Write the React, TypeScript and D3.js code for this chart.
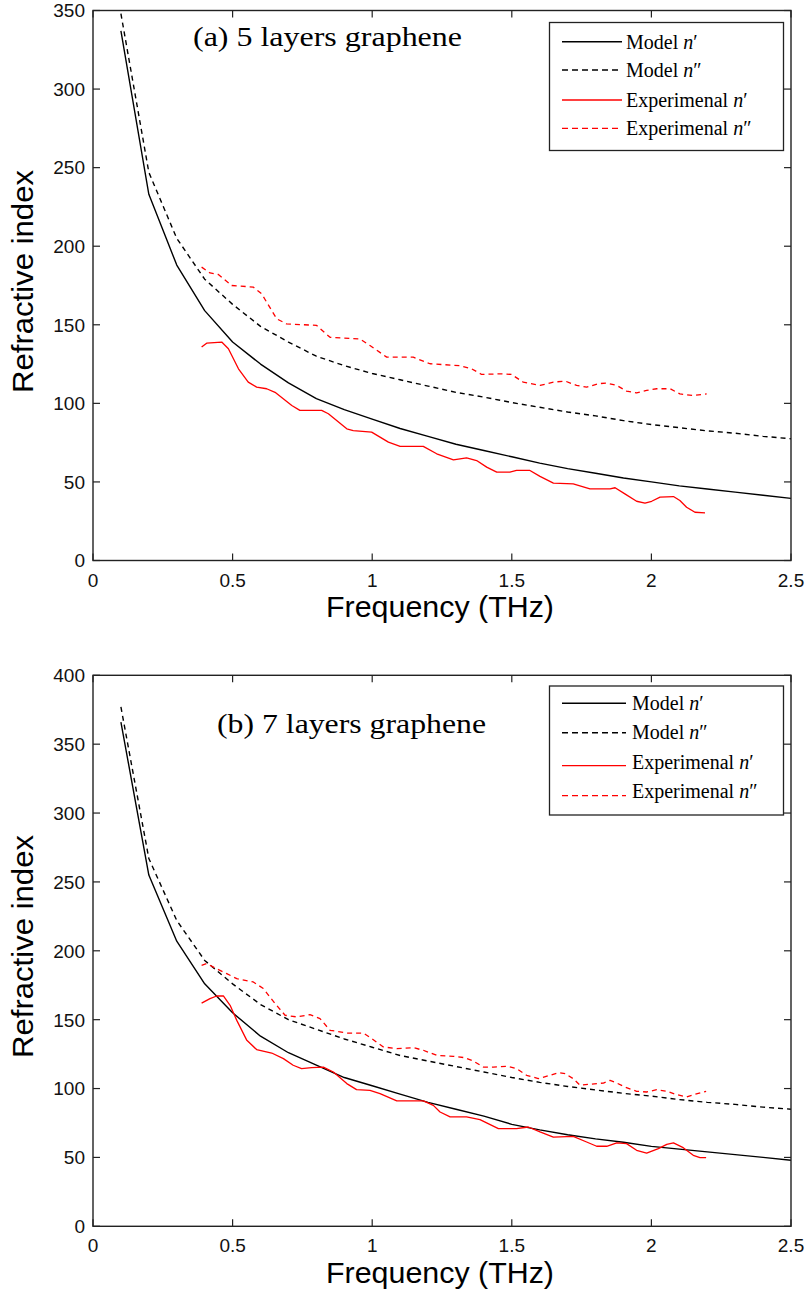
import React from "react";
import * as d3 from "d3";

// ---------- data ----------
const modelFreq = [0.1, 0.2, 0.3, 0.4, 0.5, 0.6, 0.7, 0.8, 0.9, 1.0, 1.1, 1.2, 1.3, 1.4, 1.5, 1.6, 1.7, 1.8, 1.9, 2.0, 2.1, 2.2, 2.3, 2.4, 2.5];

// Panel (a): 5 layers
const aModelReal = [337, 233, 188, 159, 139, 125, 113, 103, 96, 90, 84, 79, 74, 70, 66, 62, 58.5, 55.5, 52.5, 50, 47.5, 45.5, 43.5, 41.5, 39.5];
const aModelImag = [348, 247, 205, 179, 163, 149, 139, 130, 124, 119, 115, 111, 107, 104, 100.5, 97.5, 94.5, 92, 89, 86.5, 84.5, 82.5, 81, 79, 77.5];

const aExpRealFreq = [0.389, 0.407, 0.461, 0.485, 0.521, 0.556, 0.586, 0.622, 0.652, 0.712, 0.741, 0.819, 0.843, 0.909, 0.932, 0.998, 1.058, 1.1, 1.183, 1.231, 1.291, 1.338, 1.374, 1.41, 1.446, 1.493, 1.517, 1.565, 1.601, 1.649, 1.72, 1.78, 1.852, 1.87, 1.905, 1.947, 1.977, 2.001, 2.031, 2.079, 2.102, 2.126, 2.156, 2.192];
const aExpReal = [135.8, 138.3, 139, 134.7, 122, 113.5, 110.3, 109.3, 107, 98.6, 95.5, 95.5, 93.4, 83.8, 82.7, 81.7, 75.3, 72.6, 72.6, 67.9, 64, 65.3, 63.6, 59.4, 56.2, 56.2, 57.3, 57.3, 53.5, 49.2, 48.8, 45.6, 45.6, 46.3, 42.4, 37.7, 36.5, 37.7, 40.3, 40.7, 38.2, 33.9, 30.7, 30.3];

const aExpImagFreq = [0.389, 0.419, 0.449, 0.497, 0.574, 0.604, 0.658, 0.693, 0.801, 0.849, 0.956, 0.992, 1.052, 1.147, 1.207, 1.314, 1.356, 1.392, 1.458, 1.499, 1.541, 1.601, 1.649, 1.691, 1.732, 1.768, 1.81, 1.84, 1.876, 1.911, 1.947, 1.983, 2.019, 2.067, 2.102, 2.15, 2.198];
const aExpImag = [186.7, 183, 182, 175, 174, 169.7, 153.8, 150.6, 149.6, 142, 141, 136.8, 129.4, 129.4, 125.2, 124, 122, 118.4, 118.8, 118.4, 113.5, 111.4, 113.5, 114.2, 111.4, 110.3, 112.5, 112.9, 111.4, 107.8, 106.6, 108.2, 109.3, 109.3, 106, 105, 106];

// Panel (b): 7 layers
const bModelReal = [366, 255, 207, 176, 155, 138, 126, 117, 108, 102, 96, 90, 85, 80, 74, 70, 66.5, 63.5, 61, 58, 56, 54, 52, 50, 48];
const bModelImag = [377, 267, 222, 193, 176, 161, 150, 143, 136, 130, 124, 120, 116, 112, 108, 104.5, 101.5, 99, 96.5, 94.5, 92, 90, 88.5, 86.5, 85];

const bExpRealFreq = [0.389, 0.419, 0.443, 0.467, 0.491, 0.515, 0.551, 0.586, 0.64, 0.682, 0.717, 0.747, 0.783, 0.825, 0.861, 0.909, 0.944, 0.992, 1.028, 1.088, 1.183, 1.219, 1.243, 1.279, 1.338, 1.386, 1.452, 1.517, 1.559, 1.601, 1.649, 1.72, 1.768, 1.804, 1.84, 1.876, 1.911, 1.947, 1.983, 2.025, 2.055, 2.079, 2.114, 2.15, 2.174, 2.196];
const bExpReal = [162, 165.3, 167.2, 167.2, 160.4, 149.5, 135, 128.3, 125.8, 121.7, 116.9, 114.5, 115.2, 115.6, 112, 103.6, 99.2, 98.7, 96.3, 91, 91, 87.8, 83, 79.4, 79.4, 77.5, 70.9, 70.9, 72.1, 68.5, 64.8, 65.3, 61.2, 58.1, 58.1, 60.5, 60, 55.2, 53.2, 56.4, 59.5, 60.5, 57.1, 51.5, 49.9, 49.9];

const bExpImagFreq = [0.389, 0.407, 0.443, 0.479, 0.515, 0.574, 0.61, 0.652, 0.688, 0.73, 0.777, 0.813, 0.849, 0.909, 0.968, 0.998, 1.04, 1.088, 1.147, 1.183, 1.231, 1.291, 1.332, 1.362, 1.398, 1.434, 1.482, 1.517, 1.553, 1.595, 1.637, 1.667, 1.691, 1.72, 1.744, 1.78, 1.828, 1.852, 1.876, 1.905, 1.947, 1.983, 2.019, 2.055, 2.09, 2.126, 2.156, 2.196];
const bExpImag = [189.5, 190.7, 187, 183.4, 179.8, 177.4, 172.6, 161.7, 153.2, 152, 153.7, 150.8, 142.3, 140.3, 140.3, 136.3, 130.2, 129, 129.7, 127.8, 124.1, 123.4, 122.4, 120, 115.6, 115.6, 116.2, 114.5, 109.6, 107.2, 109.6, 111.6, 110.9, 107.2, 102.4, 103.1, 104, 106, 104, 101.1, 98, 97.5, 99.2, 98, 95.6, 93.9, 95.8, 98];

const xTicks = [0, 0.5, 1, 1.5, 2, 2.5];
const xTickLabels = ["0", "0.5", "1", "1.5", "2", "2.5"];
const aYTicks = [0, 50, 100, 150, 200, 250, 300, 350];
const bYTicks = [0, 50, 100, 150, 200, 250, 300, 350, 400];
const legendNames = ["Model ", "Model ", "Experimenal ", "Experimenal "];
const legendPrimes = ["\u2032", "\u2033", "\u2032", "\u2033"];
const titles = ["(a) 5 layers graphene", "(b) 7 layers graphene"];
const xLabel = "Frequency (THz)";
const yLabel = "Refractive index";

// ---------- styles ----------
const seriesStyles = [
  { color: "#000000", dash: "none", width: 1.4 },
  { color: "#000000", dash: "5,4", width: 1.4 },
  { color: "#ff0000", dash: "none", width: 1.3 },
  { color: "#ff0000", dash: "5,4", width: 1.3 },
];

const zip = (xs: number[], ys: number[]): [number, number][] => xs.map((v, i) => [v, ys[i]]);

const panels = [
  {
    id: "a",
    top: 10.5, bottom: 560.5, left: 93, right: 791,
    yMax: 350, yTicks: aYTicks,
    title: titles[0], titleX: 193, titleY: 46,
    ylabelY: 281.5, xlabelY: 617,
    legend: { x0: 549.5, y0: 22.5, x1: 783.5, y1: 150.5, lx0: 562, lx1: 622, tx: 626,
      lineY: [41.7, 70, 100, 128.3], textY: [48.5, 77, 106.5, 135] },
    series: [
      zip(modelFreq, aModelReal),
      zip(modelFreq, aModelImag),
      zip(aExpRealFreq, aExpReal),
      zip(aExpImagFreq, aExpImag),
    ],
  },
  {
    id: "b",
    top: 675.3, bottom: 1226.3, left: 93, right: 791,
    yMax: 400, yTicks: bYTicks,
    title: titles[1], titleX: 217, titleY: 733,
    ylabelY: 946.5, xlabelY: 1283,
    legend: { x0: 549.5, y0: 686, x1: 783.5, y1: 815, lx0: 562, lx1: 626, tx: 632,
      lineY: [703.3, 732.7, 765.7, 795.7], textY: [710, 739, 768.5, 797.5] },
    series: [
      zip(modelFreq, bModelReal),
      zip(modelFreq, bModelImag),
      zip(bExpRealFreq, bExpReal),
      zip(bExpImagFreq, bExpImag),
    ],
  },
];

const SANS = "'Liberation Sans', Arial, Helvetica, sans-serif";
const SERIF = "'Liberation Serif', 'Times New Roman', Times, serif";
const AXIS = "#222222";
const TICK = 7;

function Panel({ p }: { p: any }) {
  const x = d3.scaleLinear().domain([0, 2.5]).range([p.left, p.right]);
  const y = d3.scaleLinear().domain([0, p.yMax]).range([p.bottom, p.top]);
  const line = d3.line<[number, number]>().x((d) => x(d[0])).y((d) => y(d[1]));
  const clipId = "clip-" + p.id;
  const L = p.legend;
  return (
    <g>
      <defs>
        <clipPath id={clipId}>
          <rect x={p.left} y={p.top} width={p.right - p.left} height={p.bottom - p.top} />
        </clipPath>
      </defs>
      {/* series */}
      <g clipPath={`url(#${clipId})`}>
        {p.series.map((s: [number, number][], i: number) => (
          <path key={i} d={line(s) || ""} fill="none" stroke={seriesStyles[i].color}
            strokeWidth={seriesStyles[i].width} strokeDasharray={seriesStyles[i].dash}
            strokeLinejoin="round" />
        ))}
      </g>
      {/* axes box */}
      <rect x={p.left} y={p.top} width={p.right - p.left} height={p.bottom - p.top}
        fill="none" stroke={AXIS} strokeWidth={1.4} />
      {/* x ticks */}
      {xTicks.map((t, i) => (
        <g key={"xt" + i}>
          <line x1={x(t)} x2={x(t)} y1={p.bottom} y2={p.bottom - TICK} stroke={AXIS} strokeWidth={1.2} />
          <line x1={x(t)} x2={x(t)} y1={p.top} y2={p.top + TICK} stroke={AXIS} strokeWidth={1.2} />
          <text x={x(t)} y={p.bottom + 26} textAnchor="middle" fontFamily={SANS} fontSize={19} fill="#111">
            {xTickLabels[i]}
          </text>
        </g>
      ))}
      {/* y ticks */}
      {p.yTicks.map((t: number, i: number) => (
        <g key={"yt" + i}>
          <line x1={p.left} x2={p.left + TICK} y1={y(t)} y2={y(t)} stroke={AXIS} strokeWidth={1.2} />
          <line x1={p.right} x2={p.right - TICK} y1={y(t)} y2={y(t)} stroke={AXIS} strokeWidth={1.2} />
          <text x={p.left - 8} y={y(t)} dy="0.36em" textAnchor="end" fontFamily={SANS} fontSize={19} fill="#111">
            {String(t)}
          </text>
        </g>
      ))}
      {/* axis labels */}
      <text transform={`translate(33,${p.ylabelY}) rotate(-90)`} textAnchor="middle" fontFamily={SANS}
        fontSize={29} fill="#000" textLength={223} lengthAdjust="spacingAndGlyphs">
        {yLabel}
      </text>
      <text x={440} y={p.xlabelY} textAnchor="middle" fontFamily={SANS} fontSize={29} fill="#000"
        textLength={228} lengthAdjust="spacingAndGlyphs">
        {xLabel}
      </text>
      {/* title */}
      <text x={p.titleX} y={p.titleY} fontFamily={SERIF} fontSize={28} fill="#000"
        textLength={269} lengthAdjust="spacingAndGlyphs">
        {p.title}
      </text>
      {/* legend */}
      <rect x={L.x0} y={L.y0} width={L.x1 - L.x0} height={L.y1 - L.y0} fill="#fff" stroke={AXIS} strokeWidth={1.3} />
      {legendNames.map((name, i) => (
        <g key={"lg" + i}>
          <line x1={L.lx0} x2={L.lx1} y1={L.lineY[i]} y2={L.lineY[i]} stroke={seriesStyles[i].color}
            strokeWidth={seriesStyles[i].width} strokeDasharray={seriesStyles[i].dash === "none" ? "none" : "6,4"} />
          <text x={L.tx} y={L.textY[i]} fontFamily={SERIF} fontSize={20} fill="#000">
            {name}
            <tspan fontStyle="italic">n</tspan>
            {legendPrimes[i]}
          </text>
        </g>
      ))}
    </g>
  );
}

export default function App() {
  return (
    <svg width={808} height={1299} viewBox="0 0 808 1299"
      style={{ position: "absolute", left: 0, top: 0, background: "#fff" }}>
      <rect x={0} y={0} width={808} height={1299} fill="#fff" />
      {panels.map((p) => (
        <Panel key={p.id} p={p} />
      ))}
    </svg>
  );
}
